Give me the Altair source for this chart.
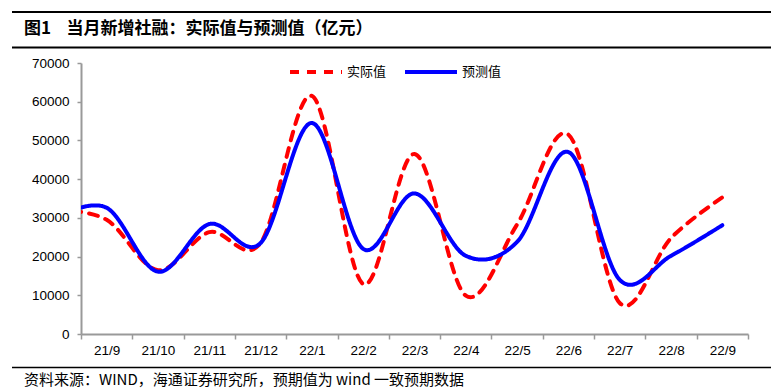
import altair as alt
import pandas as pd

# ---- data ----
months = ["21/8", "21/9", "21/10", "21/11", "21/12", "22/1", "22/2",
          "22/3", "22/4", "22/5", "22/6", "22/7", "22/8", "22/9"]
actual = [32000, 29500, 16500, 26300, 23500, 61500, 12900,
          46500, 9900, 28300, 51500, 8000, 24800, 35300]
forecast = [30000, 32600, 16100, 28400, 23500, 54500, 22000,
            36300, 20200, 23800, 47000, 14000, 20200, 28100]
series_names = ["实际值", "预测值"]
series_colors = ["#FF0000", "#0000FF"]
series_dash = [[9, 8], [1, 0]]
axis_labels = months[1:]
y_ticks = [0, 10000, 20000, 30000, 40000, 50000, 60000, 70000]

title_num = "图1"
title_text = "当月新增社融：实际值与预测值（亿元）"
footer_text = "资料来源：WIND，海通证券研究所，预期值为 wind 一致预期数据"

rows = []
for i, m in enumerate(months):
    rows.append({"idx": i - 1, "month": m, "series": series_names[0], "value": actual[i]})
    rows.append({"idx": i - 1, "month": m, "series": series_names[1], "value": forecast[i]})
df = pd.DataFrame(rows)

W, H = 667, 271
n_cat = len(axis_labels)
half_band = W / n_cat / 2

label_arr = "[" + ",".join("'" + s + "'" for s in axis_labels) + "]"

x_enc = alt.X(
    "idx:Q",
    scale=alt.Scale(domain=[-0.5, n_cat - 0.5], nice=False, zero=False),
    axis=alt.Axis(
        values=[i - 0.5 for i in range(n_cat + 1)],
        labelExpr=label_arr + "[round(datum.value + 0.5)] || ''",
        labelOffset=half_band,
        labelFlush=False,
        labelOverlap=False,
        labelBound=False,
        title=None,
        grid=False,
        domainColor="#999999",
        domainWidth=2,
        tickColor="#999999",
        tickWidth=1.5,
        tickSize=5,
        labelFont="Liberation Sans",
        labelFontSize=13.5,
        labelColor="#000000",
        labelPadding=4,
    ),
)
y_enc = alt.Y(
    "value:Q",
    scale=alt.Scale(domain=[0, 70000], nice=False),
    axis=alt.Axis(
        values=y_ticks,
        format="d",
        title=None,
        grid=False,
        domainColor="#999999",
        domainWidth=2,
        tickColor="#999999",
        tickWidth=1.5,
        tickSize=4,
        labelFont="Liberation Sans",
        labelFontSize=13.5,
        labelColor="#000000",
        labelPadding=8,
    ),
)

leg = alt.Legend(
    title=None,
    orient="none",
    legendX=207,
    legendY=-19,
    direction="horizontal",
    symbolType="stroke",
    symbolSize=2704,
    symbolStrokeWidth=4,
    labelFont="Noto Sans CJK SC",
    labelFontSize=13,
    labelColor="#000000",
    labelOffset=3,
    columnPadding=10,
    padding=0,
)

lines = alt.Chart(df).mark_line(
    interpolate="cardinal", tension=0, clip=True, strokeWidth=4, strokeCap="round"
).encode(
    x=x_enc,
    y=y_enc,
    color=alt.Color("series:N", scale=alt.Scale(domain=series_names, range=series_colors), legend=leg),
    strokeDash=alt.StrokeDash("series:N", scale=alt.Scale(domain=series_names, range=series_dash), legend=leg),
)

one = alt.Data(values=[{"a": 1}])

rule_top = alt.Chart(one).mark_rule(color="#000000", strokeWidth=2).encode(
    x=alt.value(-69), x2=alt.value(690), y=alt.value(-51))
rule_mid = alt.Chart(one).mark_rule(color="#000000", strokeWidth=2).encode(
    x=alt.value(-69), x2=alt.value(690), y=alt.value(-15.5))
rule_bot = alt.Chart(one).mark_rule(color="#000000", strokeWidth=1.5).encode(
    x=alt.value(-69), x2=alt.value(690), y=alt.value(304.5))

t_num = alt.Chart(alt.Data(values=[{"t": title_num}])).mark_text(
    align="left", baseline="middle", font="Noto Sans CJK SC", fontSize=17,
    fontWeight="bold", color="#000000").encode(
    x=alt.value(-57), y=alt.value(-34), text="t:N")
t_main = alt.Chart(alt.Data(values=[{"t": title_text}])).mark_text(
    align="left", baseline="middle", font="Noto Sans CJK SC", fontSize=17,
    fontWeight="bold", color="#000000").encode(
    x=alt.value(-14.5), y=alt.value(-34), text="t:N")
t_foot = alt.Chart(alt.Data(values=[{"t": footer_text}])).mark_text(
    align="left", baseline="middle", font="Noto Sans CJK SC", fontSize=15,
    color="#000000").encode(
    x=alt.value(-57), y=alt.value(317), text="t:N")

chart = alt.layer(
    rule_top, rule_mid, rule_bot, t_num, t_main, t_foot, lines
).properties(
    width=W,
    height=H,
    padding={"left": 73, "top": 55, "right": 25, "bottom": 54},
    autosize=alt.AutoSizeParams(type="none"),
    background="#FFFFFF",
).configure_view(stroke=None)

chart.save("out.html", embed_options={"renderer": "svg", "actions": False})
